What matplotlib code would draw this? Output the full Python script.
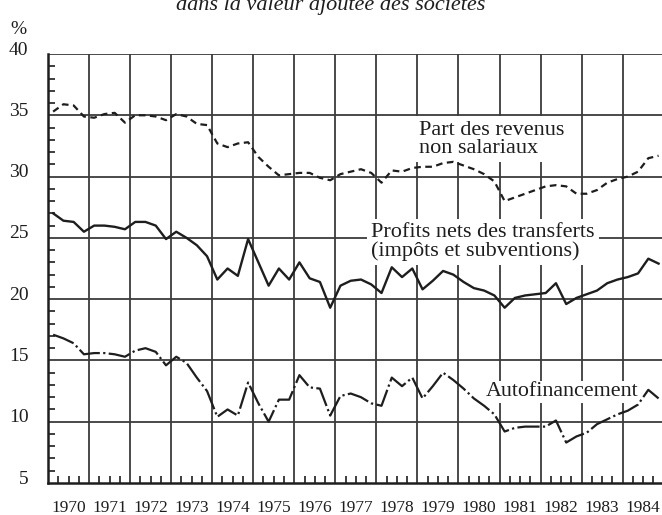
import numpy as np
import matplotlib
matplotlib.use("Agg")
import matplotlib.pyplot as plt
import matplotlib.transforms as mtransforms

# quarterly values 1970Q1 .. 1984Q4
part_revenus = [35.3, 35.9, 35.8, 34.9, 34.8, 35.1, 35.2, 34.4,
                35.0, 35.0, 34.9, 34.6, 35.1, 34.9, 34.3, 34.2,
                32.7, 32.4, 32.7, 32.8, 31.6, 30.8, 30.1, 30.2,
                30.3, 30.3, 29.9, 29.7, 30.2, 30.4, 30.6, 30.3,
                29.5, 30.5, 30.4, 30.7, 30.8, 30.8, 31.1, 31.2,
                30.9, 30.6, 30.2, 29.6, 28.0, 28.3, 28.6, 28.9,
                29.2, 29.3, 29.2, 28.6, 28.6, 28.9, 29.5, 29.8,
                30.0, 30.4, 31.5, 31.7]
profits_nets = [27.0, 26.4, 26.3, 25.5, 26.0, 26.0, 25.9, 25.7,
                26.3, 26.3, 26.0, 24.9, 25.5, 25.0, 24.4, 23.5,
                21.6, 22.5, 21.9, 24.9, 23.0, 21.1, 22.5, 21.6,
                23.0, 21.7, 21.4, 19.3, 21.1, 21.5, 21.6, 21.2,
                20.5, 22.6, 21.8, 22.5, 20.8, 21.5, 22.3, 22.0,
                21.4, 20.9, 20.7, 20.3, 19.3, 20.1, 20.3, 20.4,
                20.5, 21.3, 19.6, 20.1, 20.4, 20.7, 21.3, 21.6,
                21.8, 22.1, 23.3, 22.9]
autofinancement = [17.1, 16.8, 16.4, 15.5, 15.6, 15.6, 15.5, 15.3,
                   15.8, 16.0, 15.7, 14.6, 15.3, 14.8, 13.6, 12.5,
                   10.4, 11.0, 10.5, 13.2, 11.5, 10.0, 11.8, 11.8,
                   13.8, 12.8, 12.7, 10.5, 12.1, 12.3, 12.0, 11.5,
                   11.3, 13.6, 12.9, 13.6, 11.9, 12.9, 14.0, 13.4,
                   12.7, 11.9, 11.3, 10.6, 9.2, 9.5, 9.6, 9.6,
                   9.6, 10.1, 8.3, 8.8, 9.1, 9.8, 10.2, 10.6,
                   10.9, 11.4, 12.6, 11.9]
years = list(range(1970, 1985))

t = 1970 + (np.arange(len(part_revenus)) + 0.5) / 4

plt.rcParams['font.family'] = ['Liberation Serif', 'DejaVu Serif']
ink = '#1e1e1e'
grid = '#3c3c3c'

fig = plt.figure(figsize=(6.62, 5.15), dpi=100)
ax = fig.add_axes([48 / 662, 32 / 515, 615.7 / 662, 429 / 515])

ax.plot(t, part_revenus, color=ink, lw=1.6, ls=(0, (3, 2)), zorder=4)
ax.plot(t, profits_nets, color=ink, lw=1.7, zorder=4)
ax.plot(t, autofinancement, color=ink, lw=1.6, ls=(0, (10, 1.5, 1, 1.5)), zorder=4)

ax.set_xlim(1970, 1985)
ax.set_ylim(5, 40)

# grid lines
for y in range(10, 41, 5):
    ax.axhline(y, color=grid, lw=1.3, zorder=1)
for yr in years[1:]:
    ax.axvline(yr, color=grid, lw=1.3, zorder=1)

for s in ['top', 'right']:
    ax.spines[s].set_visible(False)
for s in ['left', 'bottom']:
    ax.spines[s].set_linewidth(1.8)
    ax.spines[s].set_color(ink)

# y axis
ax.set_yticks(range(5, 41, 5))
ax.set_yticks(range(5, 41), minor=True)
ax.tick_params(axis='y', which='major', length=0, pad=14, labelsize=14, labelcolor=ink)
ax.tick_params(axis='y', which='minor', direction='in', length=5, width=1.2, color=ink)
off = mtransforms.ScaledTranslation(0, 6 / 100, fig.dpi_scale_trans)
for lab in ax.get_yticklabels():
    lab.set_transform(lab.get_transform() + off)

# x axis: quarter ticks, year labels in the middle of each year
ax.set_xticks(years)
ax.set_xticklabels([])
quarters = [y + q / 4 for y in years for q in (1, 2, 3)]
ax.set_xticks(quarters, minor=True)
ax.set_xticklabels([str(int(q)) if q % 1 == 0.5 else '' for q in quarters], minor=True)
ax.tick_params(axis='x', which='major', length=0)
ax.tick_params(axis='x', which='minor', direction='in', length=5, width=1.2,
               color=ink, pad=12, labelsize=12.5, labelcolor=ink)

box = dict(facecolor='white', edgecolor='none', pad=3)
ax.text(1979.04, 33.05, 'Part des revenus\nnon salariaux', fontsize=16,
        color=ink, ha='left', va='center', linespacing=0.95, bbox=box, zorder=3)
ax.text(1977.87, 24.65, 'Profits nets des transferts\n(impôts et subventions)',
        fontsize=16, color=ink, ha='left', va='center', linespacing=0.92,
        bbox=box, zorder=3)
ax.text(1980.67, 12.45, 'Autofinancement', fontsize=15.8, color=ink,
        ha='left', va='center', bbox=dict(facecolor='white', edgecolor='none', pad=1),
        zorder=3)

fig.text(0.5, 1 - 10 / 515, 'dans la valeur ajoutée des sociétés', fontsize=16,
         style='italic', color=ink, ha='center', va='baseline')
fig.text(18 / 662, 1 - 29 / 515, '%', fontsize=14, color=ink, ha='center', va='center')

fig.savefig('out.png', dpi=100)
